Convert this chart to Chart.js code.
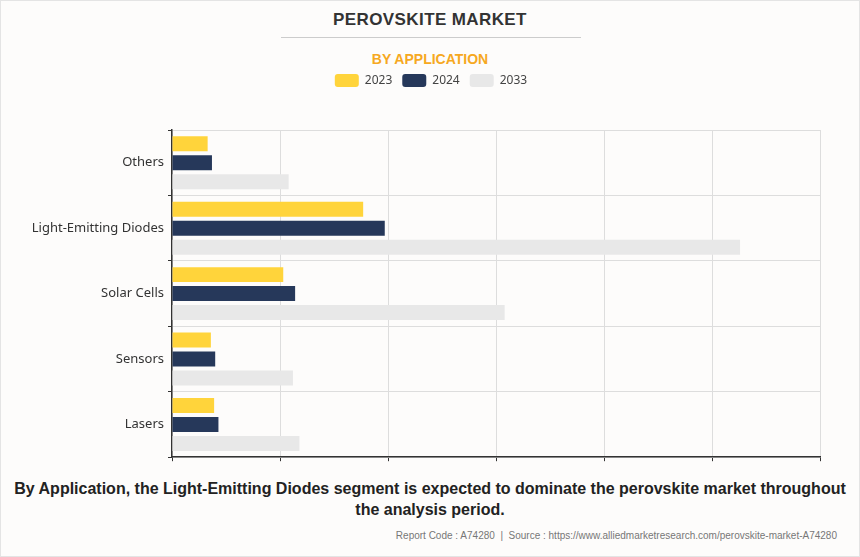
<!DOCTYPE html>
<html>
<head>
<meta charset="utf-8">
<script src="https://cdn.jsdelivr.net/npm/chart.js@4"></script>
<style>
  html, body { margin: 0; padding: 0; background: #fdfcfb; }
  #page { position: relative; width: 860px; height: 557px; box-sizing: border-box; border: 1px solid #e4e4e4; overflow: hidden; background: #fdfcfb; }
  #title { position: absolute; left: 0; width: 858px; top: 9px; text-align: center; font: bold 17px "Liberation Sans", Arial, sans-serif; letter-spacing: 0.4px; color: #333; }
  #rule { position: absolute; left: 280px; width: 300px; top: 36px; height: 1px; background: #cccccc; }
  #sub { position: absolute; left: 0; width: 858px; top: 50px; text-align: center; font: bold 14px "Liberation Sans", Arial, sans-serif; color: #f6a821; }
  #wrap { position: absolute; left: 0; top: 63px; width: 860px; height: 405px; }
  #foot { position: absolute; left: 0; width: 858px; top: 477px; text-align: center; font: bold 16px "Liberation Sans", Arial, sans-serif; line-height: 21px; color: #222; }
  #src { position: absolute; right: 22px; top: 529px; font: 10px "Liberation Sans", Arial, sans-serif; color: #777; }
</style>
</head>
<body>
<div id="page">
  <div id="title">PEROVSKITE MARKET</div>
  <div id="rule"></div>
  <div id="sub">BY APPLICATION</div>
  <div id="wrap"><canvas id="c"></canvas></div>
  <div id="foot">By Application, the Light-Emitting Diodes segment is expected to dominate the perovskite market throughout<br>the analysis period.</div>
  <div id="src">Report Code : A74280 &nbsp;|&nbsp; Source : https://www.alliedmarketresearch.com/perovskite-market-A74280</div>
</div>
<script>
const categories = ["Others", "Light-Emitting Diodes", "Solar Cells", "Sensors", "Lasers"];
const seriesNames = ["2023", "2024", "2033"];
const values2023 = [0.33, 1.77, 1.03, 0.36, 0.39];
const values2024 = [0.37, 1.97, 1.14, 0.40, 0.43];
const values2033 = [1.08, 5.26, 3.08, 1.12, 1.18];
const xTicksMax = 6;

const colors = ["#ffd43b", "#26385a", "#e8e8e8"];

const legendSpacer = {
  id: 'legendSpacer',
  beforeInit(chart) {
    const orig = chart.legend.fit;
    chart.legend.fit = function () {
      orig.call(this);
      this.height += 33;
    };
  },
  afterLayout(chart) {
    const lg = chart.legend;
    lg.left = 0;
    lg.right = chart.width;
    lg.width = chart.width;
  }
};

new Chart(document.getElementById('c'), {
  type: 'bar',
  data: {
    labels: categories,
    datasets: [values2023, values2024, values2033].map((v, i) => ({
      label: seriesNames[i],
      data: v,
      backgroundColor: colors[i],
      borderWidth: 0,
      categoryPercentage: 0.87,
      barPercentage: 0.79
    }))
  },
  options: {
    indexAxis: 'y',
    responsive: true,
    maintainAspectRatio: false,
    animation: false,
    layout: { padding: { top: 0, right: 41, bottom: 0, left: 0 } },
    plugins: {
      legend: {
        position: 'top',
        labels: {
          boxWidth: 24, boxHeight: 13, padding: 10,
          useBorderRadius: true, borderRadius: 3,
          color: '#444',
          font: { family: '"Noto Sans", sans-serif', size: 12 }
        }
      },
      tooltip: { enabled: false }
    },
    scales: {
      x: {
        min: 0, max: xTicksMax,
        ticks: { display: false, stepSize: 1 },
        grid: { color: '#dddddd', tickColor: '#333', tickLength: 4 },
        border: { color: '#333', width: 1.5 }
      },
      y: {
        afterFit(scale) { scale.width = 171; },
        ticks: { color: '#333', padding: 4, font: { family: '"Noto Sans", sans-serif', size: 13 } },
        grid: { color: '#dddddd', tickColor: '#333', tickLength: 4 },
        border: { color: '#333', width: 1.5 }
      }
    }
  },
  plugins: [legendSpacer]
});
</script>
</body>
</html>
